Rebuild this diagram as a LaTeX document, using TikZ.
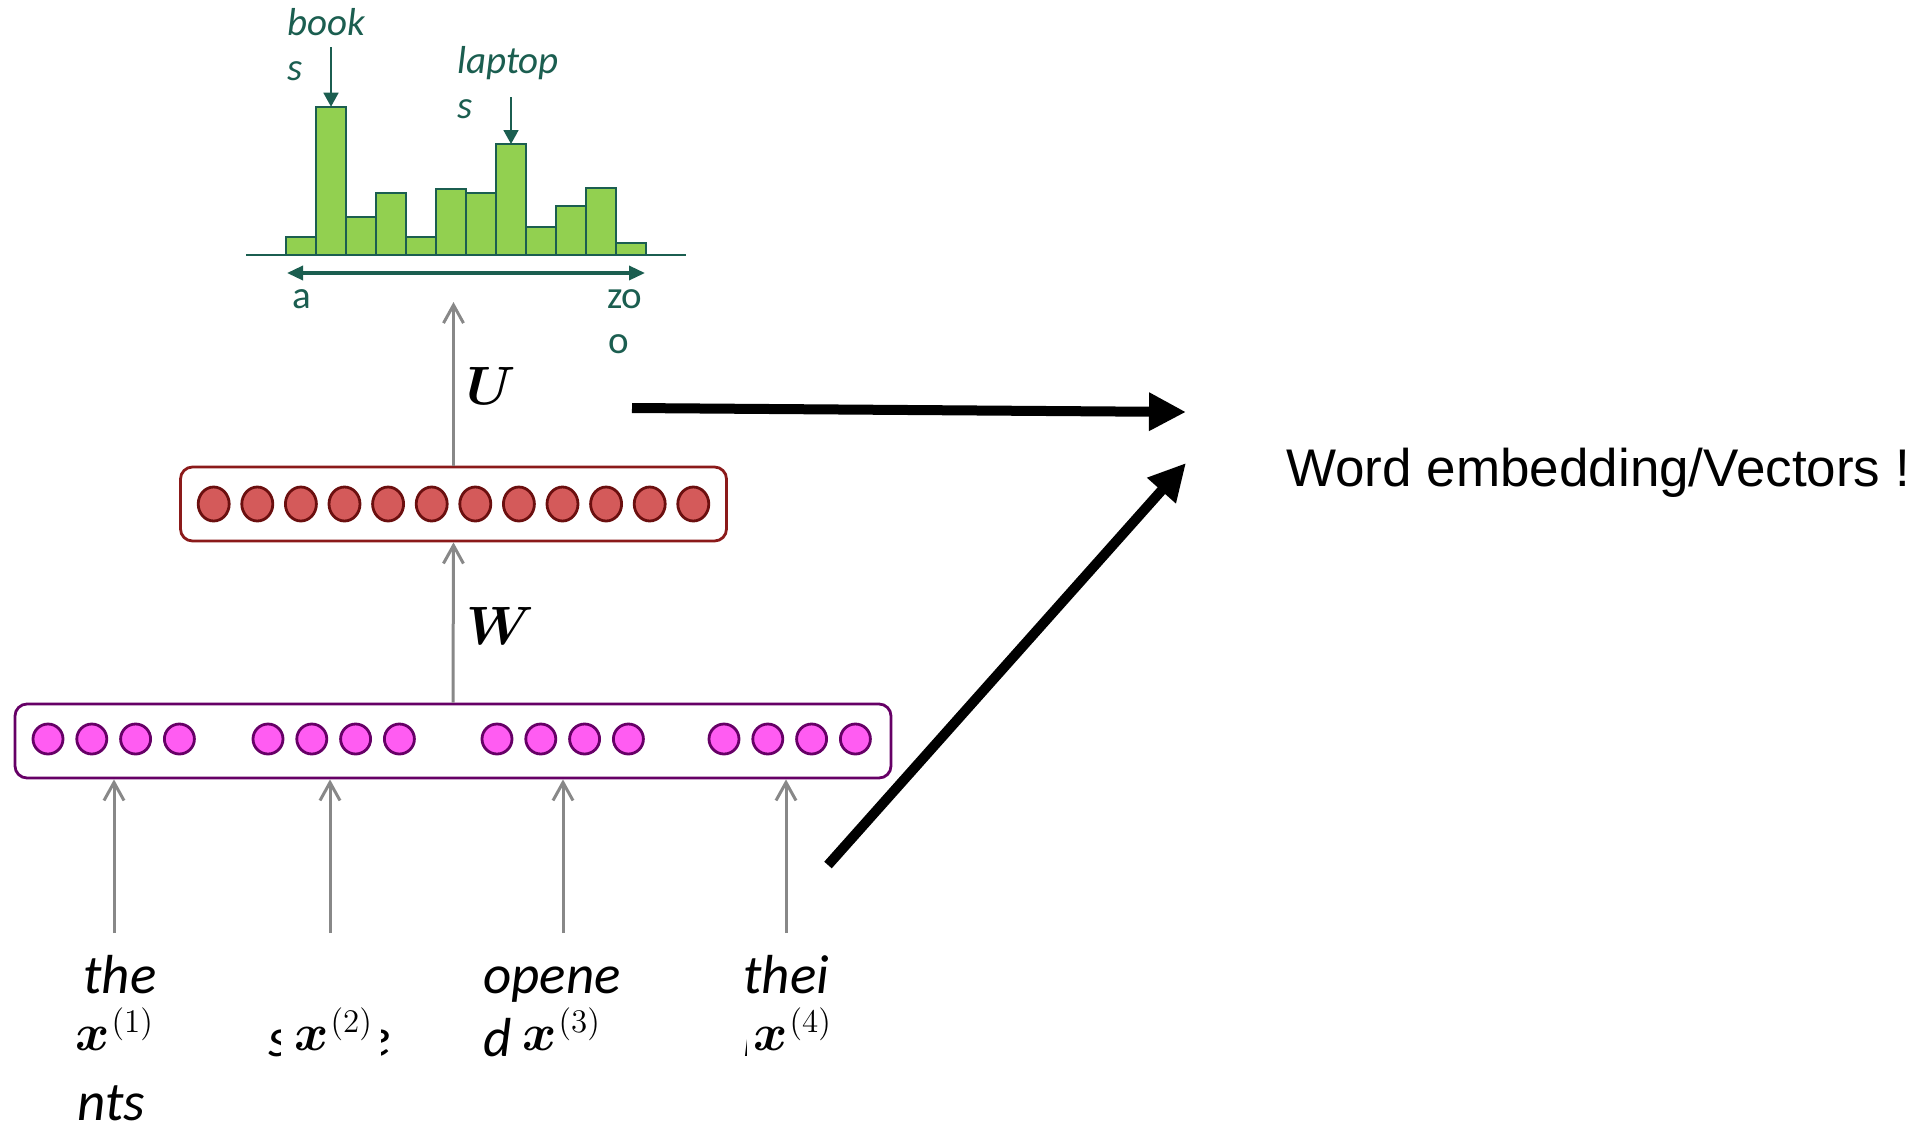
\RequirePackage{fix-cm}
\documentclass[tikz,border=0pt]{standalone}
\usepackage{amsmath}
\usepackage{fontspec}
\setmainfont{Carlito}
\newfontfamily\arialfont{Liberation Sans}
\usetikzlibrary{arrows.meta,shapes.geometric}

\definecolor{histgreen}{HTML}{92D050}
\definecolor{darkteal}{HTML}{1B5E50}
\definecolor{hidfill}{HTML}{D45A5A}
\definecolor{hiddraw}{HTML}{6B0F0F}
\definecolor{hidbox}{HTML}{8B1A1A}
\definecolor{embfill}{HTML}{FF5CF2}
\definecolor{embdraw}{HTML}{660066}
\definecolor{arrowgray}{HTML}{888888}

% input vector x^{(t)} with a large superscript
\newcommand{\wordvec}[1]{\rule[-5pt]{0pt}{5pt}{\fontsize{26}{30}\selectfont$\boldsymbol{x}$}\kern1pt\raisebox{9pt}{\fontsize{16.5}{20}\selectfont$(#1)$}}

\begin{document}
\begin{tikzpicture}[x=0.5pt,y=-0.5pt,
    hidunit/.style={ellipse,draw=hiddraw,fill=hidfill,line width=1.4pt,minimum width=15.5pt,minimum height=17pt,inner sep=0pt},
    embunit/.style={circle,draw=embdraw,fill=embfill,line width=1.4pt,minimum size=15pt,inner sep=0pt},
    layerbox/.style={rounded corners=6pt,line width=1.4pt,minimum height=37pt,inner sep=0pt},
    grayarrow/.style={draw=arrowgray,line width=1.5pt,-{Straight Barb[length=9pt,width=10pt]}},
    bigarrow/.style={line width=5pt,-{Triangle[length=18.5pt,width=18pt]}},
    histarrow/.style={draw=darkteal,line width=0.9pt,-{Triangle[length=7pt,width=7.5pt]}},
    bar/.style={draw=darkteal,fill=histgreen,line width=0.9pt},
    histlabel/.style={text=darkteal,font=\fontsize{19.5}{22.5}\selectfont,inner sep=0pt,anchor=base west},
    histword/.style={histlabel,font=\fontsize{19.5}{22.5}\selectfont\itshape},
    word/.style={font=\fontsize{27.5}{31.75}\selectfont\itshape,inner sep=0pt,anchor=base west},
    vecsym/.style={inner sep=0pt,anchor=base west,fill=white},
    weightsym/.style={font=\fontsize{27}{32}\selectfont,inner sep=0pt,anchor=west}]
    \useasboundingbox (0,0) rectangle (1929,1131);

    % histogram of the output distribution
    \draw[darkteal,line width=1.4pt] (246,255) -- (686,255);
    \foreach \h [count=\i] in {18.3,148.3,38.3,61.7,18.3,66,61.7,111,27.7,49.3,67.3,11.7} {
        \draw[bar] ({286+30*(\i-1)},255) rectangle ++(30,-\h);
        \coordinate (b\i) at ({301+30*(\i-1)},{255-\h});
    }
    \draw[darkteal,line width=1.7pt,{Triangle[length=8pt,width=7pt]}-{Triangle[length=8pt,width=7pt]}] (287,273) -- (645,273);

    \node[histword] (book) at (287,35) {book};
    \node[histword] (books) at (287,80) {s};
    \node[histword] (laptop) at (457,73) {laptop};
    \node[histword] (laptops) at (457,118) {s};
    \node[histlabel] (aa) at (292,308) {a};
    \node[histlabel] (zoo) at (607,308) {zo};
    \node[histlabel] (zooo) at (608,353) {o};
    \coordinate (booktail) at (331,47);
    \coordinate (laptoptail) at (511,97);
    \draw[histarrow] (booktail) -- (b2);
    \draw[histarrow] (laptoptail) -- (b8);

    % hidden layer
    \node[layerbox,draw=hidbox,minimum width=273pt] (hid) at (453.5,504) {};
    \foreach \i in {1,...,12}
        \node[hidunit] (h\i) at ({213.7+43.6*(\i-1)},504) {};

    % concatenated word embeddings
    \node[layerbox,draw=embdraw,minimum width=438pt] (emb) at (453,741) {};
    \foreach \g/\s in {1/48,2/268,3/497,4/724}
        \foreach \j in {1,...,4}
            \node[embunit] (e\g\j) at ({\s+43.8*(\j-1)},739) {};

    \coordinate (probs) at (453.5,302);
    \draw[grayarrow] (emb.north) -- (hid.south);
    \draw[grayarrow] (hid.north) -- (probs);
    \node[weightsym] (U) at (466,386) {$\boldsymbol{U}$};
    \node[weightsym] (W) at (466,626) {$\boldsymbol{W}$};

    % input words
    \foreach \i/\x in {1/114,2/330,3/563,4/786} {
        \coordinate (in\i) at (\x,933);
        \draw[grayarrow] (in\i) -- (in\i |- emb.south);
    }
    \node[word] (w1a) at (83,993) {the};
    \node[word] (w1b) at (77,1120) {nts};
    \node[word] (w2) at (268,1056) {stude};
    \node[word] (w3a) at (483,993) {opene};
    \node[word] (w3b) at (483,1056) {d};
    \node[word] (w4a) at (743,993) {thei};
    \node[word] (w4b) at (743,1056) {r};
    \node[vecsym] (x1) at (75,1050) {\wordvec{1}};
    \node[vecsym] (x2) at (281,1050) {\hspace*{6.5pt}\wordvec{2}\hspace*{4.5pt}};
    \node[vecsym] (x3) at (522,1050) {\wordvec{3}};
    \node[vecsym] (x4) at (747,1050) {\hspace*{3pt}\wordvec{4}};

    % pointers to the embedding text
    \coordinate (hstart) at (632,408);
    \coordinate (hend) at (1186,412);
    \coordinate (dstart) at (828,865);
    \coordinate (dend) at (1186,463);
    \draw[bigarrow] (hstart) -- (hend);
    \draw[bigarrow] (dstart) -- (dend);
    \node[font=\arialfont\fontsize{26.5}{32}\selectfont,anchor=base west,inner sep=0pt] (embtext) at (1286,486) {Word embedding/Vectors !};
\end{tikzpicture}
\end{document}
